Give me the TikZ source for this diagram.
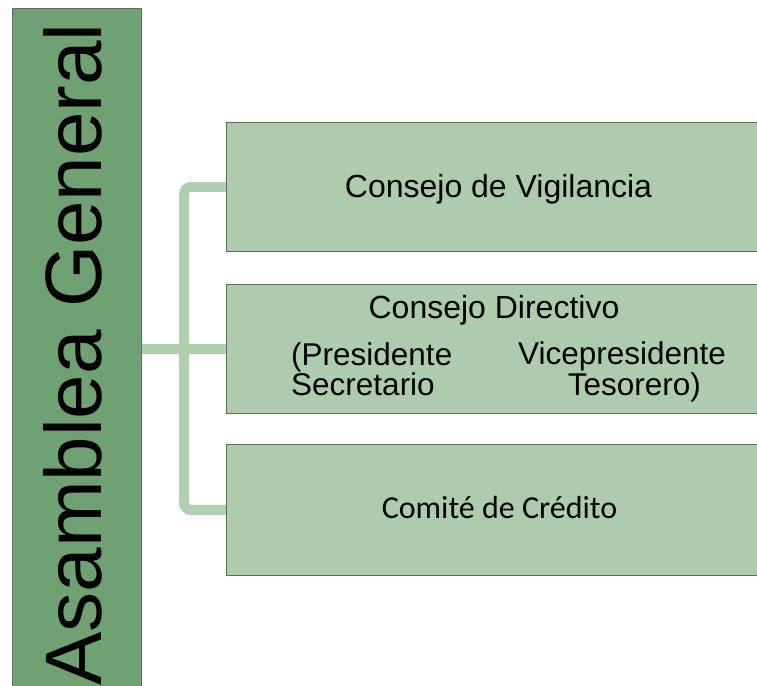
\documentclass[tikz,border=0pt]{standalone}
\usepackage{fontspec}
\setmainfont{Liberation Sans}
\newfontfamily\calib{Carlito}
\definecolor{darkg}{HTML}{6FA173}
\definecolor{lightg}{HTML}{ADCBAD}
\definecolor{conng}{HTML}{B0CEB0}
\definecolor{edgeg}{HTML}{5E6E5E}
\tikzset{
  lbox/.style={draw=edgeg, line width=0.9pt, fill=darkg, inner sep=0pt, anchor=north west},
  rbox/.style={draw=edgeg, line width=0.9pt, fill=lightg, inner sep=0pt, anchor=north west,
               minimum width=545, minimum height=129},
  conn/.style={draw=conng, line width=10pt},
  txt/.style={inner sep=0pt, font=\fontsize{32}{35}\selectfont},
  stxt/.style={inner sep=0pt, font=\fontsize{31.5}{34}\selectfont},
  ctxt/.style={inner sep=0pt, font=\calib\fontsize{32}{36}\selectfont},
  bigtxt/.style={inner sep=0pt, font=\fontsize{80}{90}\selectfont, rotate=90, anchor=base west}
}
\begin{document}
\begin{tikzpicture}[x=1pt,y=-1pt]
\useasboundingbox (0,0) rectangle (757,685);
\clip (0,0) rectangle (757,685);
\fill[white] (0,0) rectangle (757,685);
% boxes
\node[lbox, minimum width=129, minimum height=700] (ag) at (12,8) {};
\node[rbox] (b1) at (226,122) {};
\node[rbox] (b2) at (226,284) {};
\node[rbox, minimum height=131] (b3) at (226,444) {};
% connectors
\draw[conn, rounded corners=7pt] (b1.west) -- ++(-42,0) |- (b3.west);
\draw[conn] (ag.east |- b2.west) -- (b2.west);
\draw[edgeg, line width=0.9pt] (b1.north west) -- (b1.south west);
\draw[edgeg, line width=0.9pt] (b2.north west) -- (b2.south west);
\draw[edgeg, line width=0.9pt] (b3.north west) -- (b3.south west);
\draw[edgeg, line width=0.9pt] (ag.north east) -- (ag.south east);
% texts
\node[bigtxt] (agt) at (101,686) {Asamblea General};
\node[txt, anchor=base] (t1) at (498.5,197) {Consejo de Vigilancia};
\node[txt, anchor=base] (t2) at (494,318) {Consejo Directivo};
\node[stxt, anchor=base west] (t2a) at (291,365) {(Presidente};
\node[stxt, anchor=base west] (t2b) at (518,364) {Vicepresidente};
\node[stxt, anchor=base west] (t2c) at (291,395) {Secretario};
\node[stxt, anchor=base east] (t2d) at (701,395) {Tesorero)};
\node[ctxt, anchor=base] (t3) at (499.5,518) {Comité de Crédito};
\end{tikzpicture}
\end{document}
